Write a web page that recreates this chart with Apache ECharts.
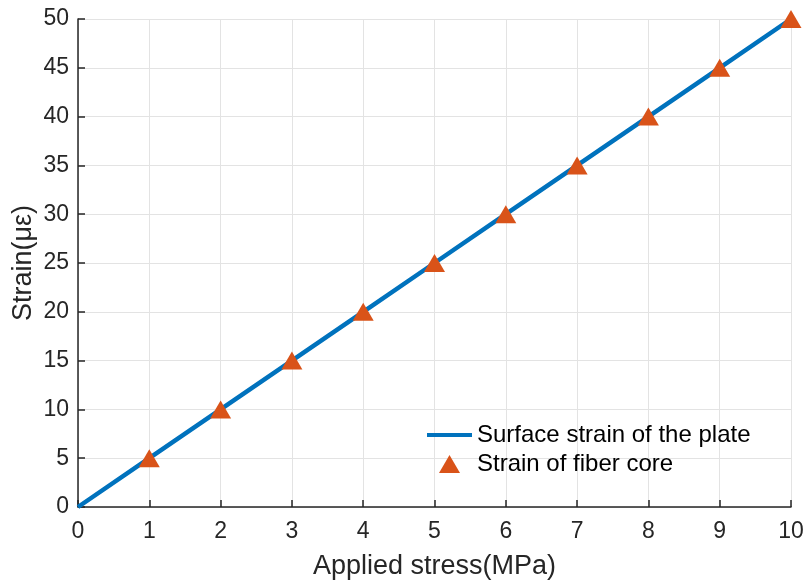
<!DOCTYPE html>
<html>
<head>
  <meta charset="utf-8">
  <script src="https://cdn.jsdelivr.net/npm/echarts@6/dist/echarts.min.js"></script>
</head>
<body style="margin:0;background:#fff">
  <div id="container" style="width:806px;height:580px"></div>
  <script>
    // data
    var stressX = [0, 1, 2, 3, 4, 5, 6, 7, 8, 9, 10];
    var surfaceStrain = [0, 5, 10, 15, 20, 25, 30, 35, 40, 45, 50];
    var coreX = [1, 2, 3, 4, 5, 6, 7, 8, 9, 10];
    var coreStrain = [5, 10, 15, 20, 25, 30, 35, 40, 45, 50];

    var FONT = 'Liberation Sans, Arial, sans-serif';
    var INK = '#262626';

    // legend icons padded to a 45x18 box so both texts line up
    var LINE_ICON = 'path://M0,0M45,18M0,7L45,7L45,11L0,11Z';
    var TRI_ICON = 'path://M0,0M45,18M22.5,0L33,18L12,18Z';

    var chart = echarts.init(document.getElementById('container'));

    var axisCommon = {
      type: 'value',
      axisLine: { show: true, lineStyle: { color: INK, width: 1.5 } },
      axisTick: { show: true, inside: true, length: 7, lineStyle: { color: INK, width: 1.5 } },
      axisLabel: { color: INK, fontFamily: FONT, fontSize: 23 },
      splitLine: { show: true, lineStyle: { color: '#e3e3e3', width: 1 } },
      nameLocation: 'middle',
      nameMoveOverlap: false,
      nameTextStyle: { color: INK, fontFamily: FONT, fontSize: 27 }
    };

    var legendText = { color: '#000', fontFamily: FONT, fontSize: 24 };

    chart.setOption({
      animation: false,
      grid: { left: 78, right: 15, top: 19, bottom: 73, outerBoundsMode: 'none', containLabel: false },
      xAxis: Object.assign({}, axisCommon, {
        min: 0, max: 10, interval: 1,
        name: 'Applied stress(MPa)', nameGap: 46,
        axisLabel: Object.assign({}, axisCommon.axisLabel, { margin: 13 })
      }),
      yAxis: Object.assign({}, axisCommon, {
        min: 0, max: 50, interval: 5,
        name: 'Strain(με)', nameGap: 41,
        axisLabel: Object.assign({}, axisCommon.axisLabel, { margin: 9 })
      }),
      legend: [
        {
          data: [{ name: 'Surface strain of the plate', icon: LINE_ICON }],
          left: 427, top: 423, padding: 0,
          itemWidth: 45, itemHeight: 18,
          textStyle: legendText
        },
        {
          data: [{ name: 'Strain of fiber core', icon: TRI_ICON }],
          left: 427, top: 452, padding: 0,
          itemWidth: 45, itemHeight: 18,
          textStyle: legendText
        }
      ],
      series: [
        {
          name: 'Surface strain of the plate',
          type: 'line',
          data: stressX.map(function (x, i) { return [x, surfaceStrain[i]]; }),
          showSymbol: false,
          lineStyle: { color: '#0072BD', width: 4.5 },
          itemStyle: { color: '#0072BD' },
          z: 2
        },
        {
          name: 'Strain of fiber core',
          type: 'scatter',
          data: coreX.map(function (x, i) { return [x, coreStrain[i]]; }),
          symbol: 'triangle',
          symbolSize: [21, 18],
          itemStyle: { color: '#D95319', opacity: 1 },
          z: 3
        }
      ]
    });
  </script>
</body>
</html>
